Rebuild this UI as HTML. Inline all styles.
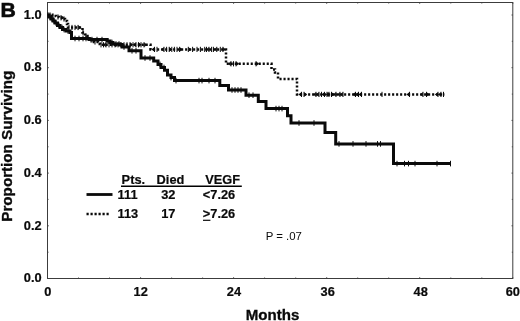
<!DOCTYPE html>
<html><head><meta charset="utf-8"><title>B</title>
<style>
html,body{margin:0;padding:0;background:#fff;}
body{width:520px;height:321px;overflow:hidden;}
svg{display:block;will-change:transform;filter:blur(0.35px);}
text{font-family:"Liberation Sans",sans-serif;fill:#0a0a0a;}
.b{font-weight:bold;}
.tk{stroke:#0a0a0a;stroke-width:1;fill:none;}
.tr{fill:#0a0a0a;stroke:none;}
</style></head><body>
<svg width="520" height="321" viewBox="0 0 520 321">
<rect x="0" y="0" width="520" height="321" fill="#fff"/>
<rect x="47.5" y="2.5" width="465.29999999999995" height="276.0" fill="none" stroke="#3c3c3c" stroke-width="1"/>
<g stroke="#3c3c3c" stroke-width="0.9" fill="none"><path d="M47.5 278.5 v-1.3"/><path d="M47.5 2.5 v1.3"/><path d="M78.5 278.5 v-1.0"/><path d="M78.5 2.5 v1.0"/><path d="M109.5 278.5 v-1.0"/><path d="M109.5 2.5 v1.0"/><path d="M140.6 278.5 v-1.3"/><path d="M140.6 2.5 v1.3"/><path d="M171.6 278.5 v-1.0"/><path d="M171.6 2.5 v1.0"/><path d="M202.6 278.5 v-1.0"/><path d="M202.6 2.5 v1.0"/><path d="M233.6 278.5 v-1.3"/><path d="M233.6 2.5 v1.3"/><path d="M264.6 278.5 v-1.0"/><path d="M264.6 2.5 v1.0"/><path d="M295.7 278.5 v-1.0"/><path d="M295.7 2.5 v1.0"/><path d="M326.7 278.5 v-1.3"/><path d="M326.7 2.5 v1.3"/><path d="M357.7 278.5 v-1.0"/><path d="M357.7 2.5 v1.0"/><path d="M388.7 278.5 v-1.0"/><path d="M388.7 2.5 v1.0"/><path d="M419.7 278.5 v-1.3"/><path d="M419.7 2.5 v1.3"/><path d="M450.8 278.5 v-1.0"/><path d="M450.8 2.5 v1.0"/><path d="M481.8 278.5 v-1.0"/><path d="M481.8 2.5 v1.0"/><path d="M512.8 278.5 v-1.3"/><path d="M512.8 2.5 v1.3"/><path d="M47.5 278.5 h1.3"/><path d="M512.8 278.5 h-1.3"/><path d="M47.5 252.2 h1.0"/><path d="M512.8 252.2 h-1.0"/><path d="M47.5 225.8 h1.3"/><path d="M512.8 225.8 h-1.3"/><path d="M47.5 199.4 h1.0"/><path d="M512.8 199.4 h-1.0"/><path d="M47.5 173.1 h1.3"/><path d="M512.8 173.1 h-1.3"/><path d="M47.5 146.8 h1.0"/><path d="M512.8 146.8 h-1.0"/><path d="M47.5 120.4 h1.3"/><path d="M512.8 120.4 h-1.3"/><path d="M47.5 94.1 h1.0"/><path d="M512.8 94.1 h-1.0"/><path d="M47.5 67.7 h1.3"/><path d="M512.8 67.7 h-1.3"/><path d="M47.5 41.3 h1.0"/><path d="M512.8 41.3 h-1.0"/><path d="M47.5 15.0 h1.3"/><path d="M512.8 15.0 h-1.3"/></g>
<g class="b" font-size="12.8" stroke="#0a0a0a" stroke-width="0.22"><text x="41.6" y="282.2" text-anchor="end">0.0</text><text x="41.6" y="229.5" text-anchor="end">0.2</text><text x="41.6" y="176.8" text-anchor="end">0.4</text><text x="41.6" y="124.1" text-anchor="end">0.6</text><text x="41.6" y="71.4" text-anchor="end">0.8</text><text x="41.6" y="18.7" text-anchor="end">1.0</text><text x="47.8" y="295.8" text-anchor="middle">0</text><text x="140.7" y="295.8" text-anchor="middle">12</text><text x="233.9" y="295.8" text-anchor="middle">24</text><text x="327.7" y="295.8" text-anchor="middle">36</text><text x="420.7" y="295.8" text-anchor="middle">48</text><text x="512.8" y="295.8" text-anchor="middle">60</text></g>
<text class="b" x="0.2" y="17.3" font-size="20.4" stroke="#0a0a0a" stroke-width="0.6" transform="translate(0.3 0) scale(1.04 1)">B</text>
<text class="b" font-size="15.2" stroke="#0a0a0a" stroke-width="0.35" transform="translate(11.9,146.2) rotate(-90)" text-anchor="middle">Proportion Surviving</text>
<text class="b" font-size="15.1" stroke="#0a0a0a" stroke-width="0.3" x="272.5" y="319.7" text-anchor="middle">Months</text>
<!-- curves -->
<path d="M47.5 15.0 H52.0 V16.0 H56.0 V17.0 H59.0 V17.8 H62.0 V19.0 H65.0 V21.0 H67.0 V24.0 H68.0 V27.5 H80.0 V27.5 H82.5 V32.5 H85.0 V36.0 H87.5 V38.5 H90.0 V40.0 H94.0 V42.0 H98.0 V44.0 H100.0 V44.8 H149.5 V44.8 H150.5 V49.4 H225.0 V49.4 H226.0 V63.8 H271.0 V63.8 H271.5 V69.5 H274.5 V69.5 H275.0 V72.5 H278.0 V72.5 H278.0 V79.0 H296.5 V79.0 H297.0 V94.4 H444.5 V94.4" fill="none" stroke="#0a0a0a" stroke-width="2.5" stroke-dasharray="2.1 1.9"/>
<g><path class="tk" d="M50.0 12.4 v5.2"/><path class="tk" d="M53.0 13.4 v5.2"/><path class="tk" d="M58.0 14.4 v5.2"/><path class="tk" d="M61.0 15.2 v5.2"/><path class="tr" d="M64.2 17.8 l-3 -2.2 v4.4z"/><path class="tk" d="M64.0 16.4 v5.2"/><path class="tk" d="M69.0 24.9 v5.2"/><path class="tk" d="M72.0 24.9 v5.2"/><path class="tk" d="M75.0 24.9 v5.2"/><path class="tk" d="M78.0 24.9 v5.2"/><path class="tr" d="M81.2 27.5 l-3 -2.2 v4.4z"/><path class="tk" d="M83.0 29.9 v5.2"/><path class="tk" d="M86.0 33.4 v5.2"/><path class="tk" d="M91.0 37.4 v5.2"/><path class="tk" d="M95.0 39.4 v5.2"/><path class="tk" d="M101.0 42.2 v5.2"/><path class="tk" d="M103.5 42.2 v5.2"/><path class="tk" d="M106.0 42.2 v5.2"/><path class="tr" d="M102.8 44.8 l3 -2.2 v4.4z"/><path class="tk" d="M109.0 42.2 v5.2"/><path class="tk" d="M112.0 42.2 v5.2"/><path class="tk" d="M115.0 42.2 v5.2"/><path class="tr" d="M118.2 44.8 l-3 -2.2 v4.4z"/><path class="tk" d="M118.0 42.2 v5.2"/><path class="tk" d="M121.0 42.2 v5.2"/><path class="tr" d="M117.8 44.8 l3 -2.2 v4.4z"/><path class="tk" d="M124.0 42.2 v5.2"/><path class="tk" d="M127.0 42.2 v5.2"/><path class="tk" d="M130.0 42.2 v5.2"/><path class="tr" d="M133.2 44.8 l-3 -2.2 v4.4z"/><path class="tk" d="M133.0 42.2 v5.2"/><path class="tk" d="M136.0 42.2 v5.2"/><path class="tr" d="M132.8 44.8 l3 -2.2 v4.4z"/><path class="tk" d="M138.5 42.2 v5.2"/><path class="tr" d="M141.7 44.8 l-3 -2.2 v4.4z"/><path class="tk" d="M141.0 42.2 v5.2"/><path class="tk" d="M144.0 42.2 v5.2"/><path class="tr" d="M147.2 44.8 l-3 -2.2 v4.4z"/><path class="tk" d="M154.5 46.8 v5.2"/><path class="tr" d="M151.3 49.4 l3 -2.2 v4.4z"/><path class="tk" d="M157.0 46.8 v5.2"/><path class="tk" d="M164.0 46.8 v5.2"/><path class="tr" d="M160.8 49.4 l3 -2.2 v4.4z"/><path class="tk" d="M166.6 46.8 v5.2"/><path class="tk" d="M169.2 46.8 v5.2"/><path class="tr" d="M172.4 49.4 l-3 -2.2 v4.4z"/><path class="tk" d="M171.8 46.8 v5.2"/><path class="tk" d="M174.4 46.8 v5.2"/><path class="tk" d="M177.0 46.8 v5.2"/><path class="tk" d="M179.6 46.8 v5.2"/><path class="tr" d="M182.8 49.4 l-3 -2.2 v4.4z"/><path class="tk" d="M188.3 46.8 v5.2"/><path class="tr" d="M191.5 49.4 l-3 -2.2 v4.4z"/><path class="tk" d="M192.6 46.8 v5.2"/><path class="tk" d="M197.0 46.8 v5.2"/><path class="tk" d="M200.4 46.8 v5.2"/><path class="tk" d="M204.7 46.8 v5.2"/><path class="tk" d="M206.5 46.8 v5.2"/><path class="tk" d="M209.0 46.8 v5.2"/><path class="tr" d="M205.8 49.4 l3 -2.2 v4.4z"/><path class="tk" d="M211.6 46.8 v5.2"/><path class="tk" d="M213.4 46.8 v5.2"/><path class="tk" d="M216.8 46.8 v5.2"/><path class="tr" d="M213.6 49.4 l3 -2.2 v4.4z"/><path class="tk" d="M220.3 46.8 v5.2"/><path class="tk" d="M222.9 46.8 v5.2"/><path class="tr" d="M226.1 49.4 l-3 -2.2 v4.4z"/><path class="tk" d="M231.0 61.2 v5.2"/><path class="tr" d="M227.8 63.8 l3 -2.2 v4.4z"/><path class="tk" d="M233.5 61.2 v5.2"/><path class="tk" d="M236.0 61.2 v5.2"/><path class="tr" d="M239.2 63.8 l-3 -2.2 v4.4z"/><path class="tk" d="M256.0 61.2 v5.2"/><path class="tr" d="M259.2 63.8 l-3 -2.2 v4.4z"/><path class="tk" d="M301.5 91.8 v5.2"/><path class="tr" d="M298.3 94.4 l3 -2.2 v4.4z"/><path class="tk" d="M304.0 91.8 v5.2"/><path class="tr" d="M307.2 94.4 l-3 -2.2 v4.4z"/><path class="tk" d="M316.0 91.8 v5.2"/><path class="tr" d="M312.8 94.4 l3 -2.2 v4.4z"/><path class="tk" d="M319.0 91.8 v5.2"/><path class="tr" d="M315.8 94.4 l3 -2.2 v4.4z"/><path class="tk" d="M321.5 91.8 v5.2"/><path class="tk" d="M324.5 91.8 v5.2"/><path class="tr" d="M321.3 94.4 l3 -2.2 v4.4z"/><path class="tk" d="M327.0 91.8 v5.2"/><path class="tr" d="M330.2 94.4 l-3 -2.2 v4.4z"/><path class="tk" d="M329.0 91.8 v5.2"/><path class="tr" d="M325.8 94.4 l3 -2.2 v4.4z"/><path class="tk" d="M331.5 91.8 v5.2"/><path class="tr" d="M334.7 94.4 l-3 -2.2 v4.4z"/><path class="tk" d="M336.0 91.8 v5.2"/><path class="tr" d="M332.8 94.4 l3 -2.2 v4.4z"/><path class="tk" d="M340.0 91.8 v5.2"/><path class="tr" d="M336.8 94.4 l3 -2.2 v4.4z"/><path class="tk" d="M343.0 91.8 v5.2"/><path class="tr" d="M339.8 94.4 l3 -2.2 v4.4z"/><path class="tk" d="M355.5 91.8 v5.2"/><path class="tr" d="M352.3 94.4 l3 -2.2 v4.4z"/><path class="tk" d="M358.5 91.8 v5.2"/><path class="tr" d="M355.3 94.4 l3 -2.2 v4.4z"/><path class="tk" d="M361.5 91.8 v5.2"/><path class="tr" d="M358.3 94.4 l3 -2.2 v4.4z"/><path class="tk" d="M382.0 91.8 v5.2"/><path class="tk" d="M409.5 91.8 v5.2"/><path class="tr" d="M406.3 94.4 l3 -2.2 v4.4z"/><path class="tk" d="M423.0 91.8 v5.2"/><path class="tr" d="M419.8 94.4 l3 -2.2 v4.4z"/><path class="tk" d="M426.5 91.8 v5.2"/><path class="tr" d="M429.7 94.4 l-3 -2.2 v4.4z"/><path class="tk" d="M438.0 91.8 v5.2"/><path class="tr" d="M434.8 94.4 l3 -2.2 v4.4z"/><path class="tk" d="M441.0 91.8 v5.2"/><path class="tr" d="M437.8 94.4 l3 -2.2 v4.4z"/><path class="tk" d="M443.5 91.8 v5.2"/></g>
<path d="M47.5 15.0 H49.0 V17.0 H51.0 V19.0 H53.0 V21.0 H55.0 V23.0 H57.5 V25.5 H60.0 V27.5 H62.5 V29.5 H66.0 V31.0 H70.0 V32.5 H71.5 V38.5 H88.0 V38.5 H89.0 V39.6 H105.0 V39.6 H107.0 V41.0 H110.0 V42.5 H113.0 V44.0 H120.0 V44.6 H122.0 V47.0 H127.5 V47.0 H129.0 V50.8 H139.5 V50.8 H141.0 V58.0 H153.7 V61.0 H158.0 V64.4 H161.0 V67.5 H164.5 V70.3 H167.5 V75.0 H171.0 V77.6 H174.5 V80.6 H219.8 V80.6 H219.8 V85.5 H228.5 V85.5 H228.5 V90.0 H246.0 V90.0 H246.0 V95.2 H258.3 V95.2 H258.3 V101.5 H266.0 V101.5 H266.0 V108.6 H287.5 V108.6 H287.5 V115.8 H291.0 V115.8 H291.0 V123.0 H325.0 V123.0 H325.0 V132.6 H335.7 V132.6 H335.7 V143.9 H393.5 V143.9 H393.5 V163.6 H451.0 V163.6" fill="none" stroke="#0a0a0a" stroke-width="3" stroke-linejoin="miter"/>
<g stroke="#0a0a0a" stroke-width="1" fill="none"><path d="M48.0 12.2 v5.6"/><path d="M50.0 14.2 v5.6"/><path d="M52.0 16.2 v5.6"/><path d="M54.0 18.2 v5.6"/><path d="M56.0 20.2 v5.6"/><path d="M59.0 22.7 v5.6"/><path d="M62.0 24.7 v5.6"/><path d="M64.0 26.7 v5.6"/><path d="M68.0 28.2 v5.6"/><path d="M75.0 35.7 v5.6"/><path d="M79.0 35.7 v5.6"/><path d="M83.0 35.7 v5.6"/><path d="M86.0 35.7 v5.6"/><path d="M92.0 36.8 v5.6"/><path d="M97.0 36.8 v5.6"/><path d="M102.0 36.8 v5.6"/><path d="M108.0 38.2 v5.6"/><path d="M112.0 39.7 v5.6"/><path d="M116.0 41.2 v5.6"/><path d="M119.0 41.2 v5.6"/><path d="M124.0 44.2 v5.6"/><path d="M132.0 48.0 v5.6"/><path d="M136.0 48.0 v5.6"/><path d="M145.0 55.2 v5.6"/><path d="M150.0 55.2 v5.6"/><path d="M160.0 61.6 v5.6"/><path d="M164.0 64.7 v5.6"/><path d="M171.0 74.8 v5.6"/><path d="M176.0 77.8 v5.6"/><path d="M199.0 77.8 v5.6"/><path d="M202.0 77.8 v5.6"/><path d="M209.0 77.8 v5.6"/><path d="M215.0 77.8 v5.6"/><path d="M232.0 87.2 v5.6"/><path d="M235.0 87.2 v5.6"/><path d="M238.0 87.2 v5.6"/><path d="M241.0 87.2 v5.6"/><path d="M249.0 92.4 v5.6"/><path d="M253.0 92.4 v5.6"/><path d="M276.0 105.8 v5.6"/><path d="M279.0 105.8 v5.6"/><path d="M282.0 105.8 v5.6"/><path d="M299.0 120.2 v5.6"/><path d="M314.0 120.2 v5.6"/><path d="M339.0 141.1 v5.6"/><path d="M353.0 141.1 v5.6"/><path d="M366.0 141.1 v5.6"/><path d="M377.5 141.1 v5.6"/><path d="M380.5 141.1 v5.6"/><path d="M397.0 160.8 v5.6"/><path d="M404.5 160.8 v5.6"/><path d="M408.5 160.8 v5.6"/><path d="M415.0 160.8 v5.6"/><path d="M437.0 160.8 v5.6"/><path d="M450.5 160.8 v5.6"/></g>
<!-- legend -->
<g class="b" font-size="12.8" stroke="#0a0a0a" stroke-width="0.2">
<text x="121.6" y="183.8">Pts.</text><text x="156.6" y="183.8">Died</text><text x="205.2" y="183.8">VEGF</text>
<text x="117.6" y="199.4">111</text><text x="161.2" y="199.4">32</text><text x="202.8" y="199.4">&lt;7.26</text>
<text x="117.6" y="218">113</text><text x="161.2" y="218">17</text><text x="202.8" y="218">&gt;7.26</text>
</g>
<path d="M121 186.2 H241.8" stroke="#000" stroke-width="1.6"/>
<path d="M203 220.3 H210.4" stroke="#0a0a0a" stroke-width="1.2"/>
<path d="M86.5 194.5 H112.5" stroke="#0a0a0a" stroke-width="2.8"/>
<path d="M86.5 213.9 H109" stroke="#0a0a0a" stroke-width="2.5" stroke-dasharray="2.2 1.8"/>
<text x="265.7" y="240" font-size="11.4">P = .07</text>
</svg>
</body></html>
